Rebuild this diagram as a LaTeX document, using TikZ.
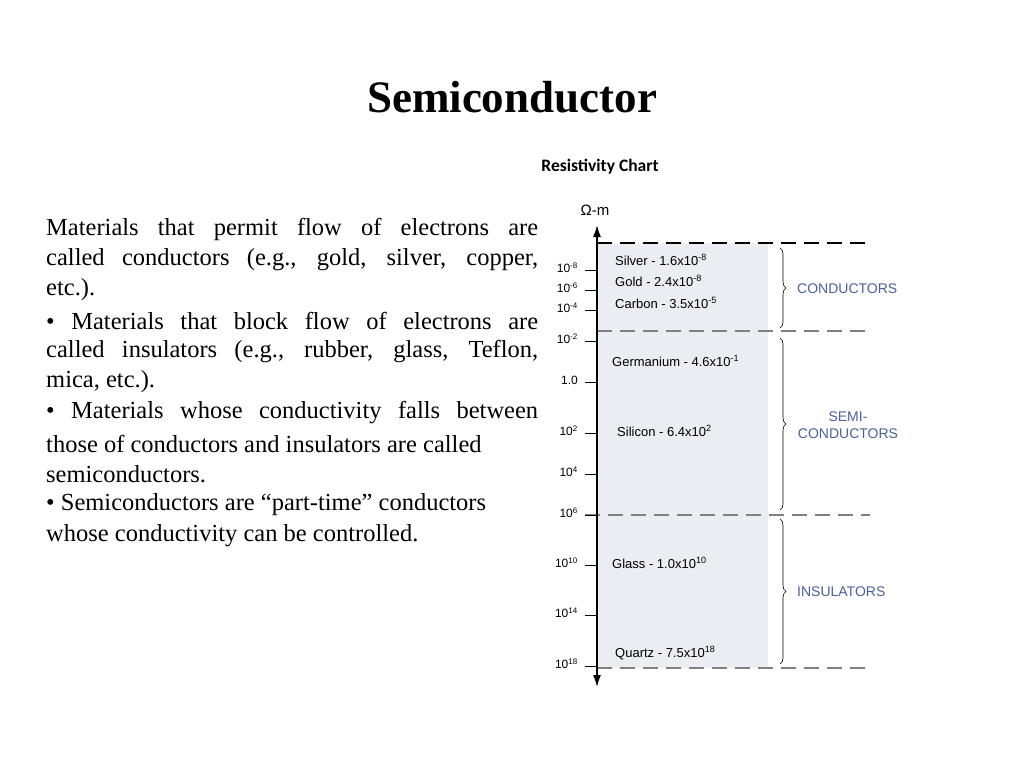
\documentclass[tikz,border=0pt]{standalone}
\usepackage{fontspec}
\setmainfont{Liberation Serif}
\newfontfamily\chartfont{Liberation Sans}
\newfontfamily\capfont{Carlito}
\usetikzlibrary{decorations.pathreplacing,arrows.meta}
\definecolor{shadecol}{RGB}{236,236,243}
\definecolor{grp}{RGB}{74,96,160}
\newcommand\sps[1]{\textsuperscript{#1}}
\begin{document}
\begin{tikzpicture}[x=1pt,y=-1pt,
  body/.style={anchor=west,inner sep=0pt,font=\fontsize{24.5}{28}\selectfont},
  tick/.style={anchor=east,inner sep=0pt,font=\chartfont\fontsize{12}{14}\selectfont},
  mat/.style={anchor=west,inner sep=0pt,font=\chartfont\fontsize{13}{15}\selectfont},
  grplab/.style={inner sep=0pt,text=grp,align=center,font=\chartfont\fontsize{14}{17}\selectfont},
  dline/.style={dashed,dash pattern=on 15pt off 8pt,line width=1.2pt},
  br/.style={decorate,decoration={brace,amplitude=6pt},line width=0.6pt}]
\useasboundingbox (0,0) rectangle (1024,768);
\node[inner sep=0pt,font=\bfseries\fontsize{45}{50}\selectfont] (title) at (512,97) {Semiconductor};
\node[inner sep=0pt,font=\capfont\bfseries\fontsize{17.5}{20}\selectfont] (chart) at (600,167) {Resistivity Chart};
% body text
\newcommand\jl[1]{\makebox[492pt][s]{#1}}
\node[body] (l1) at (46,229) {\jl{Materials that permit flow of electrons are}};
\node[body] (l2) at (46,260) {\jl{called conductors (e.g., gold, silver, copper,}};
\node[body] (l3) at (46,290) {etc.).};
\node[body] (l4) at (46,321) {\jl{• Materials that block flow of electrons are}};
\node[body] (l5) at (46,352) {\jl{called insulators (e.g., rubber, glass, Teflon,}};
\node[body] (l6) at (46,382) {mica, etc.).};
\node[body] (l7) at (46,413) {\jl{• Materials whose conductivity falls between}};
\node[body] (l8) at (46,444) {those of conductors and insulators are called};
\node[body] (l9) at (46,474) {semiconductors.};
\node[body] (l10) at (46,505) {• Semiconductors are “part-time” conductors};
\node[body] (l11) at (46,536) {whose conductivity can be controlled.};
% chart
\fill[shadecol] (597,243) rectangle (768,668);
\draw[dline,black] (597,243) -- (870,243);
\draw[dline,gray] (597,331) -- (870,331);
\draw[dline,gray] (585,515) -- (870,515);
\draw[dline,gray] (597,668) -- (870,668);
\coordinate (top) at (597,225);
\coordinate (bot) at (597,687);
\draw[line width=1.6pt,-{Latex[length=12pt,width=8pt]}] (597,460) -- (top);
\draw[line width=1.6pt,-{Latex[length=12pt,width=8pt]}] (597,460) -- (bot);
\node[inner sep=0pt,font=\chartfont\fontsize{15}{17}\selectfont] (unit) at (595,210) {Ω-m};
\foreach \y/\t in {270/10\sps{-8},290/10\sps{-6},310/10\sps{-4},341/10\sps{-2},382/1.0,433/10\sps{2},474/10\sps{4},515/10\sps{6},565/10\sps{10},615/10\sps{14},666/10\sps{18}}{
  \draw[line width=1pt] (585,\y) -- (597,\y);
  \node[tick] at (578,\y-2) {\t};
}
\node[mat] (ag) at (615,260) {Silver - 1.6x10\sps{-8}};
\node[mat] (au) at (615,281) {Gold - 2.4x10\sps{-8}};
\node[mat] (c) at (615,303) {Carbon - 3.5x10\sps{-5}};
\node[mat] (ge) at (612,361) {Germanium - 4.6x10\sps{-1}};
\node[mat] (si) at (617,431) {Silicon - 6.4x10\sps{2}};
\node[mat] (gl) at (612,563) {Glass - 1.0x10\sps{10}};
\node[mat] (qz) at (615,653) {Quartz - 7.5x10\sps{18}};
\draw[br] (780,248) -- (780,328);
\draw[br] (780,338) -- (780,510);
\draw[br] (780,519) -- (780,664);
\node[grplab,anchor=west] (cond) at (797,289) {CONDUCTORS};
\node[grplab] (semi) at (848,425) {SEMI-\\CONDUCTORS};
\node[grplab,anchor=west] (ins) at (797,592) {INSULATORS};
\end{tikzpicture}
\end{document}
